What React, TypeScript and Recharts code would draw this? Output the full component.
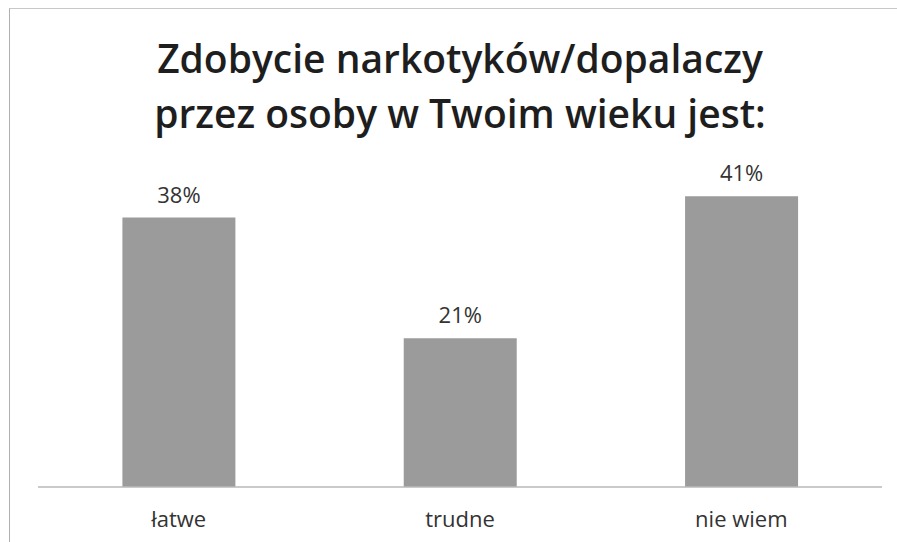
import React from "react";
import { BarChart, Bar, XAxis, YAxis, LabelList } from "recharts";

const categories = ["łatwe", "trudne", "nie wiem"];
const values = [38, 21, 41];
const titleLines = ["Zdobycie narkotyków/dopalaczy", "przez osoby w Twoim wieku jest:"];

const data = categories.map((name, i) => ({ name, value: values[i] }));

const FONT = "'Open Sans', 'DejaVu Sans', sans-serif";

const Tick = (props: any) => {
  const { x, y, payload } = props;
  return (
    <text x={x} y={y + 32} textAnchor="middle" fontFamily={FONT} fontSize={22} fill="#333">
      {payload.value}
    </text>
  );
};

export default function App() {
  return (
    <div style={{ position: "absolute", left: 0, top: 0, width: 897, height: 542, background: "#fff" }}>
      <div style={{ position: "absolute", left: 9, top: 8, width: 888, height: 534, borderTop: "1px solid #c8c8c8", borderLeft: "1px solid #b0b0b0" }} />
      <div
        style={{
          position: "absolute",
          left: 0,
          top: 30,
          width: 920,
          textAlign: "center",
          fontFamily: FONT,
          fontWeight: 600,
          fontSize: 39,
          lineHeight: "55px",
          color: "#1e1e1e",
        }}
      >
        <div>{titleLines[0]}</div>
        <div>{titleLines[1]}</div>
      </div>
      <BarChart
        width={897}
        height={542}
        data={data}
        margin={{ top: 168, right: 15, left: 38, bottom: 0 }}
        barCategoryGap="30%"
        style={{ position: "absolute", left: 0, top: 0 }}
      >
        <XAxis
          dataKey="name"
          height={55}
          tickLine={false}
          axisLine={{ stroke: "#b8b8b8", strokeWidth: 1.5 }}
          tick={<Tick />}
          interval={0}
        />
        <YAxis hide domain={[0, 45]} />
        <Bar dataKey="value" fill="#9b9b9b" isAnimationActive={false}>
          <LabelList
            dataKey="value"
            position="top"
            offset={15}
            formatter={(v: any) => `${v}%`}
            style={{ fontFamily: FONT, fontSize: 22, fill: "#333" }}
          />
        </Bar>
      </BarChart>
    </div>
  );
}
